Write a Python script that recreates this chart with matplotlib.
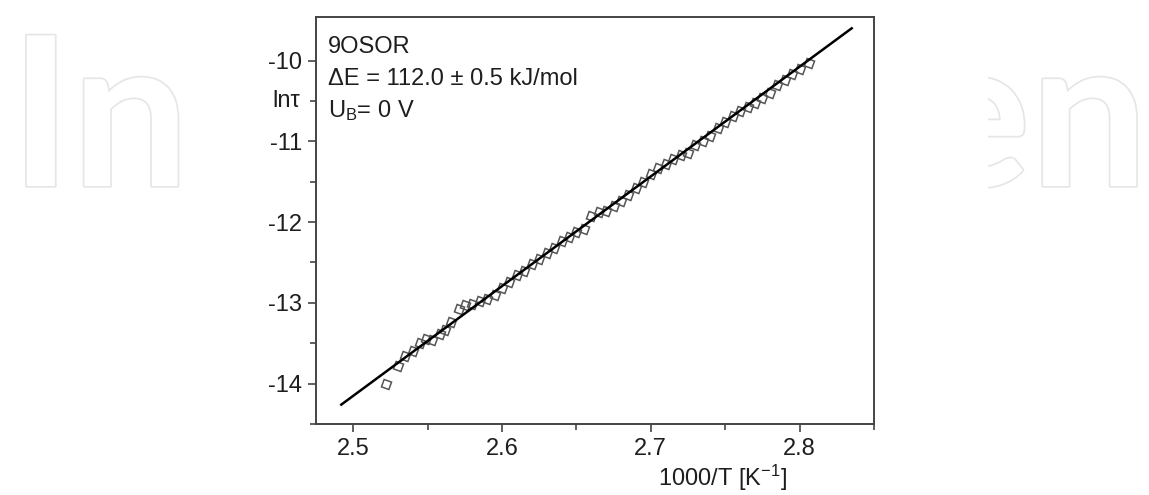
import matplotlib
matplotlib.use("Agg")
import matplotlib.pyplot as plt
import matplotlib.patheffects as pe

plt.rcParams['font.family'] = ['Liberation Sans', 'DejaVu Sans']
plt.rcParams['mathtext.fontset'] = 'custom'
plt.rcParams['mathtext.rm'] = 'Liberation Sans'
plt.rcParams['mathtext.it'] = 'Liberation Sans:italic'

# measured points (1000/T, ln tau)
inv_t = [2.522, 2.530, 2.535, 2.540, 2.545, 2.549, 2.553, 2.558, 2.562, 2.566,
         2.571, 2.575, 2.580, 2.585, 2.590, 2.595, 2.600, 2.605, 2.610, 2.615,
         2.620, 2.625, 2.630, 2.635, 2.640, 2.645, 2.650, 2.655, 2.660, 2.665,
         2.670, 2.675, 2.680, 2.685, 2.690, 2.695, 2.700, 2.705, 2.710, 2.715,
         2.720, 2.725, 2.730, 2.735, 2.740, 2.745, 2.750, 2.755, 2.760, 2.765,
         2.770, 2.775, 2.780, 2.785, 2.790, 2.795, 2.800, 2.806]
ln_tau = [-14.00, -13.78, -13.66, -13.60, -13.50, -13.45, -13.46, -13.38, -13.33, -13.24,
          -13.08, -13.03, -13.02, -12.98, -12.95, -12.90, -12.82, -12.74, -12.66, -12.60,
          -12.52, -12.46, -12.38, -12.32, -12.24, -12.18, -12.12, -12.08, -11.92, -11.88,
          -11.86, -11.80, -11.74, -11.66, -11.58, -11.50, -11.40, -11.33, -11.28, -11.22,
          -11.17, -11.14, -11.05, -11.00, -10.93, -10.84, -10.76, -10.68, -10.63, -10.58,
          -10.52, -10.46, -10.40, -10.30, -10.24, -10.16, -10.10, -10.03]

# fitted straight line (ends)
fit_x = [2.492, 2.835]
fit_y = [-14.26, -9.60]

x_ticks = [2.5, 2.6, 2.7, 2.8]
y_ticks = [-14, -13, -12, -11, -10]

fig = plt.figure(figsize=(11.49, 4.95), dpi=100)

# watermark behind the chart (only the visible parts)
wm = dict(fontsize=150, color='white', family='Lato', weight='bold', zorder=-3,
          path_effects=[pe.withStroke(linewidth=2.5, foreground='#e6e6e6')])
fig.text(10/1149, 1 - 186/495, "In", ha='left', va='baseline', **wm)
fig.text(1148/1149, 1 - 186/495, "en", ha='right', va='baseline', **wm)
fig.add_artist(plt.Rectangle((210/1149, 0), (988-210)/1149, 1, transform=fig.transFigure,
                             facecolor='white', edgecolor='none', zorder=-2))

ax = fig.add_axes([316/1149, 1 - 424/495, (874-316)/1149, (424-17)/495])
ax.set_facecolor('white')

ax.plot(inv_t, ln_tau, linestyle='none', marker=(4, 0, 25), markersize=8,
        markerfacecolor='none', markeredgecolor='#555555', markeredgewidth=1.1)
ax.plot(fit_x, fit_y, color='black', linewidth=1.8)

ax.set_xlim(2.475, 2.85)
ax.set_ylim(-14.48, -9.46)
ax.set_xticks(x_ticks)
ax.set_xticklabels([str(v) for v in x_ticks])
ax.set_xticks([2.55, 2.65, 2.75, 2.85], minor=True)
ax.set_yticks(y_ticks)
ax.set_yticklabels([str(v) for v in y_ticks])
ax.set_yticks([-14.5, -13.5, -12.5, -11.5, -10.5], minor=True)

for s in ax.spines.values():
    s.set_color('#444444')
    s.set_linewidth(1.4)
ax.tick_params(which='both', direction='out', colors='#444444', width=1.2,
               labelcolor='#1e1e1e', labelsize=17, top=False, right=False)
ax.tick_params(which='major', length=6, pad=4)
ax.tick_params(which='minor', length=4)

ax.set_xlabel("1000/T [K$^{-1}$]", fontsize=17, color='#1e1e1e')
ax.xaxis.set_label_coords(0.728, -0.133)
ax.xaxis.label.set_va('center')
ax.text(-0.029, -10.5, "ln\u03c4", transform=ax.get_yaxis_transform(),
        ha='right', va='center', fontsize=17, color='#1e1e1e')

ax.text(0.0215, 0.9115, "9OSOR", transform=ax.transAxes, fontsize=17,
        color='#1e1e1e', va='baseline')
ax.text(0.0215, 0.833, "\u0394E = 112.0 \u00b1 0.5 kJ/mol", transform=ax.transAxes,
        fontsize=17, color='#1e1e1e', va='baseline')
ax.text(0.0215, 0.754, "U$_\\mathrm{B}$= 0 V", transform=ax.transAxes, fontsize=17,
        color='#1e1e1e', va='baseline')

fig.savefig("out.png", dpi=100)
